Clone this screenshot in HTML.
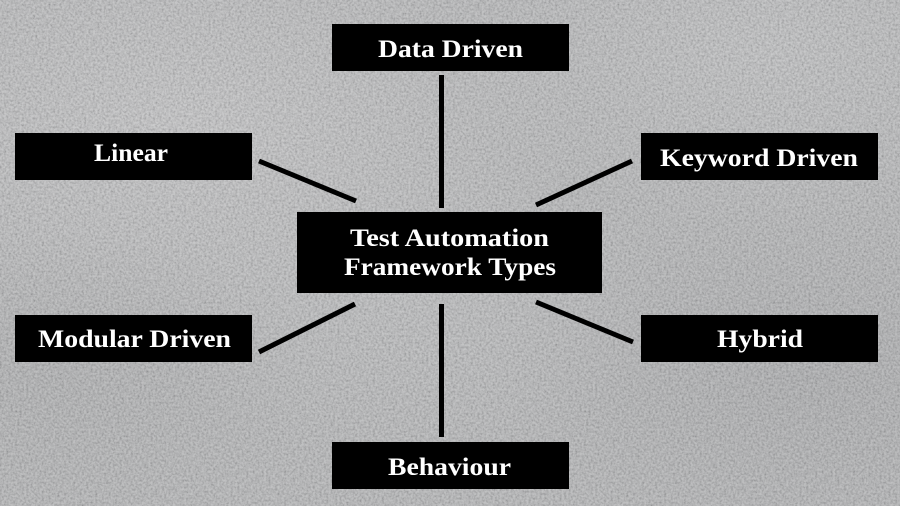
<!DOCTYPE html>
<html>
<head>
<meta charset="utf-8">
<style>
  html, body { margin: 0; padding: 0; }
  body { width: 900px; height: 506px; overflow: hidden; position: relative; background: #a7a8a9; }
  svg { position: absolute; left: 0; top: 0; }
  .t { font-family: "Liberation Serif", serif; font-weight: bold; font-size: 25px; fill: #ffffff; }
</style>
</head>
<body>
<svg width="900" height="506" viewBox="0 0 900 506" xmlns="http://www.w3.org/2000/svg">
  <defs>
    <radialGradient id="g1" cx="0.2" cy="0.25" r="0.45">
      <stop offset="0" stop-color="#bdbdbe" stop-opacity="0.7"/>
      <stop offset="1" stop-color="#bdbdbe" stop-opacity="0"/>
    </radialGradient>
    <radialGradient id="g2" cx="0.85" cy="0.1" r="0.35">
      <stop offset="0" stop-color="#b9babb" stop-opacity="0.6"/>
      <stop offset="1" stop-color="#b9babb" stop-opacity="0"/>
    </radialGradient>
    <radialGradient id="g3" cx="0.9" cy="0.75" r="0.35">
      <stop offset="0" stop-color="#929395" stop-opacity="0.5"/>
      <stop offset="1" stop-color="#929395" stop-opacity="0"/>
    </radialGradient>
    <radialGradient id="g4" cx="0.05" cy="0.75" r="0.3">
      <stop offset="0" stop-color="#9a9b9c" stop-opacity="0.5"/>
      <stop offset="1" stop-color="#9a9b9c" stop-opacity="0"/>
    </radialGradient>
    <radialGradient id="g5" cx="0.45" cy="0.6" r="0.3">
      <stop offset="0" stop-color="#b3b4b5" stop-opacity="0.5"/>
      <stop offset="1" stop-color="#b3b4b5" stop-opacity="0"/>
    </radialGradient>
    <filter id="noise" x="0" y="0" width="100%" height="100%">
      <feTurbulence type="fractalNoise" baseFrequency="0.45" numOctaves="3" seed="3"/>
      <feColorMatrix type="matrix" values="1.4 0 0 0 -0.04  1.4 0 0 0 -0.04  1.4 0 0 0 -0.03  0 0 0 0 1"/>
    </filter>
  </defs>

  <!-- background -->
  <rect width="900" height="506" fill="#a7a8a9"/>
  <rect width="900" height="506" fill="url(#g1)"/>
  <rect width="900" height="506" fill="url(#g2)"/>
  <rect width="900" height="506" fill="url(#g3)"/>
  <rect width="900" height="506" fill="url(#g4)"/>
  <rect width="900" height="506" fill="url(#g5)"/>
  <rect width="900" height="506" filter="url(#noise)" opacity="0.3"/>

  <!-- connectors -->
  <g stroke="#000" stroke-width="5" stroke-linecap="butt">
    <line x1="441.5" y1="75" x2="441.5" y2="208"/>
    <line x1="441.5" y1="304" x2="441.5" y2="437"/>
    <line x1="259" y1="161" x2="356" y2="201"/>
    <line x1="632" y1="161" x2="536" y2="205"/>
    <line x1="259" y1="352" x2="355" y2="304"/>
    <line x1="536" y1="302" x2="633" y2="342"/>
  </g>

  <!-- boxes -->
  <g fill="#000">
    <rect x="332" y="24" width="237" height="47"/>
    <rect x="15" y="133" width="237" height="47"/>
    <rect x="641" y="133" width="237" height="47"/>
    <rect x="297" y="212" width="305" height="81"/>
    <rect x="15" y="315" width="237" height="47"/>
    <rect x="641" y="315" width="237" height="47"/>
    <rect x="332" y="442" width="237" height="47"/>
  </g>

  <!-- labels -->
  <text class="t" x="378" y="57" textLength="145" lengthAdjust="spacingAndGlyphs">Data Driven</text>
  <text class="t" x="94" y="161" textLength="74" lengthAdjust="spacingAndGlyphs">Linear</text>
  <text class="t" x="660" y="166" textLength="198" lengthAdjust="spacingAndGlyphs">Keyword Driven</text>
  <text class="t" x="350" y="246" textLength="199" lengthAdjust="spacingAndGlyphs">Test Automation</text>
  <text class="t" x="344" y="275" textLength="212" lengthAdjust="spacingAndGlyphs">Framework Types</text>
  <text class="t" x="38" y="347" textLength="193" lengthAdjust="spacingAndGlyphs">Modular Driven</text>
  <text class="t" x="717" y="347" textLength="86" lengthAdjust="spacingAndGlyphs">Hybrid</text>
  <text class="t" x="388" y="475" textLength="123" lengthAdjust="spacingAndGlyphs">Behaviour</text>
</svg>
</body>
</html>
